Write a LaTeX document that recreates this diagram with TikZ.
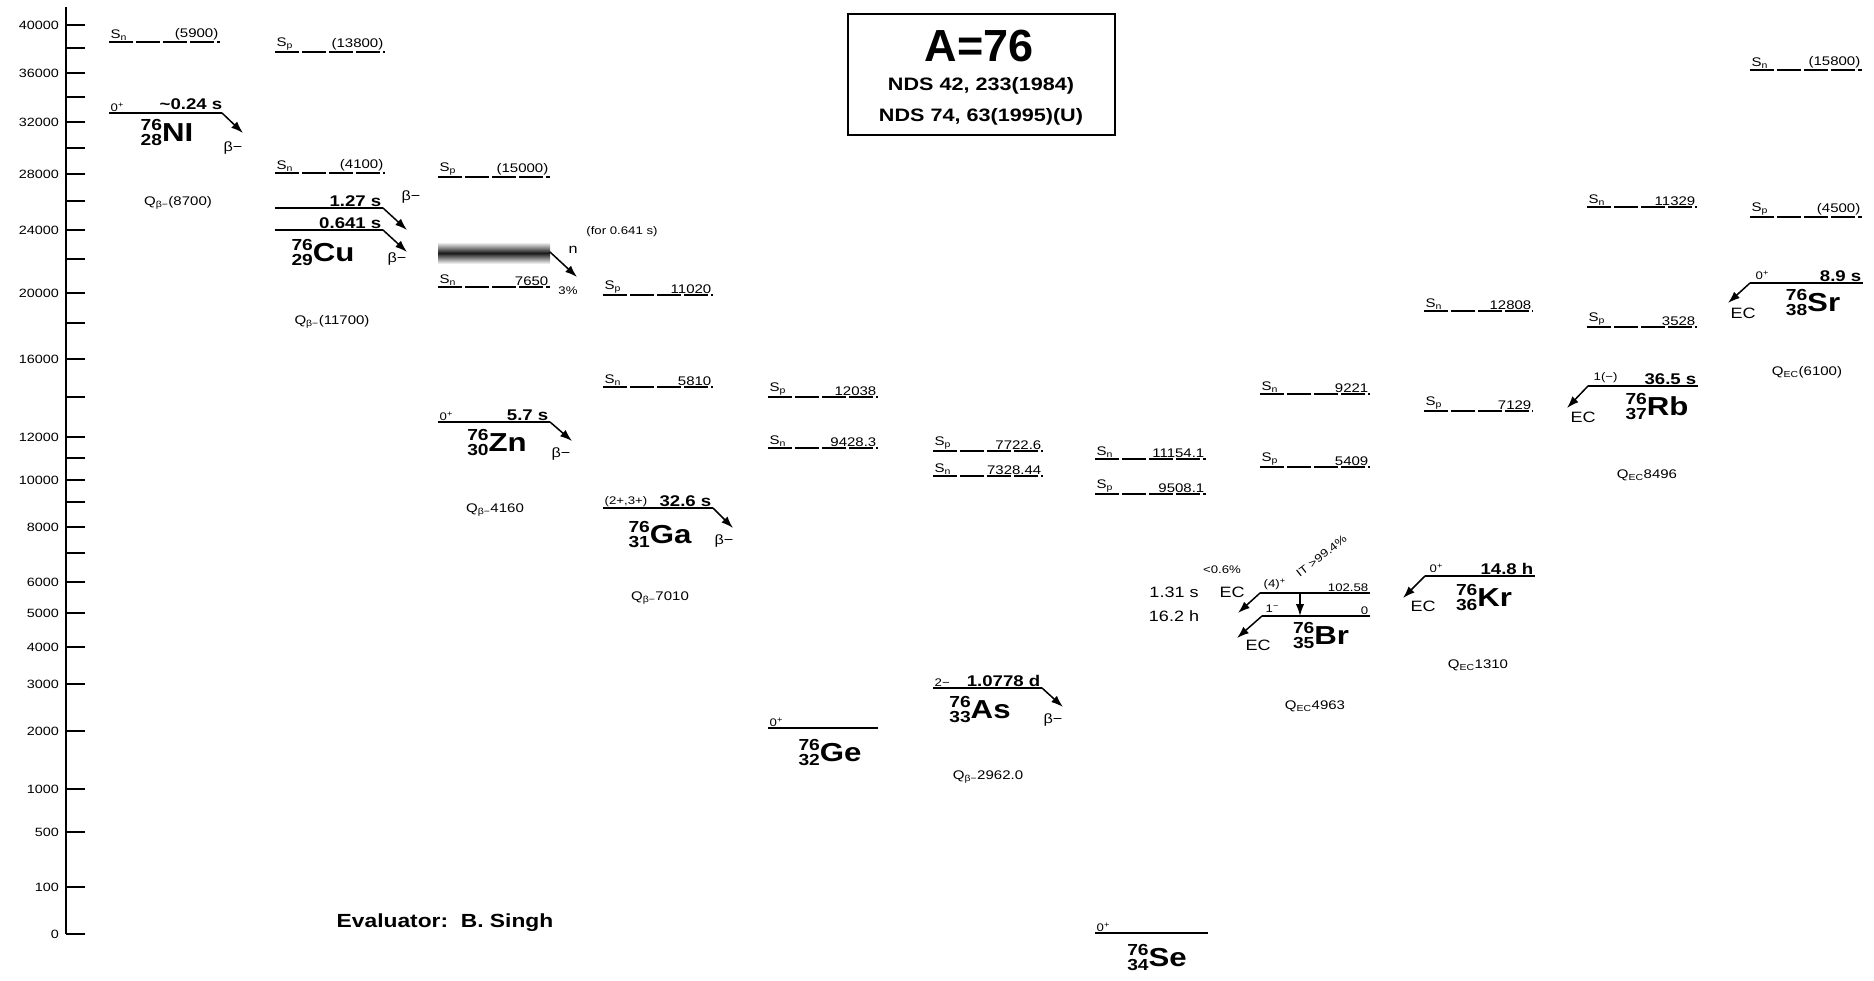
\documentclass[tikz,border=0pt]{standalone}
\usepackage{fontspec}
\setmainfont[FakeStretch=1.2]{Liberation Sans}
\newfontfamily\plainsans{Liberation Sans}
\usetikzlibrary{arrows.meta}
\newcommand{\iso}[3]{\bfseries\raisebox{-4pt}{\fontsize{16}{12}\selectfont\begin{tabular}[b]{@{}r@{}}#1\\#2\end{tabular}}\fontsize{26}{26}\selectfont#3}
\newcommand{\sepline}[6]{%
  \coordinate (#1l) at (#4,#6); \coordinate (#1r) at (#5,#6);
  \draw[sepl] (#1l) -- (#1r);
  \node[lab, anchor=south west] (#1a) at (#1l) {S\textsubscript{#2}};
  \node[lab, anchor=south east] (#1v) at (#1r) {#3};}
\begin{document}
\begin{tikzpicture}[x=1pt,y=-1pt,
  lab/.style={font=\fontsize{12.5}{13}\selectfont, inner sep=1.5pt},
  small/.style={font=\fontsize{11}{12}\selectfont, inner sep=1.5pt},
  hl/.style={font=\bfseries\fontsize{15.5}{17}\selectfont, inner sep=1.5pt},
  dec/.style={font=\fontsize{13.5}{14}\selectfont, inner sep=1pt},
  nuc/.style={inner sep=0pt},
  lev/.style={line width=2.2pt},
  sepl/.style={line width=1.5pt, dash pattern=on 24pt off 3pt},
  dar/.style={line width=1.5pt, -{Latex[length=12pt,width=8.5pt]}},
  axl/.style={line width=1.8pt},
  axlab/.style={font=\fontsize{12}{13}\selectfont, anchor=east, inner sep=0pt}]
\useasboundingbox (0,0) rectangle (1874,980);
% axis
\coordinate (axtop) at (66,7); \coordinate (axbot) at (66,934);
\draw[axl] (axtop) -- (axbot);
\foreach \y in {25,48,73,97,122,148,174,201,230,259,293,323,359,397,437,458,480,502,527,553,582,613,647,684,731,789,832,887,934}
  \draw[axl] (66,\y) -- (85,\y);
\foreach \v/\y in {40000/25,36000/73,32000/122,28000/174,24000/230,20000/293,16000/359,12000/437,10000/480,8000/527,6000/582,5000/613,4000/647,3000/684,2000/731,1000/789,500/832,100/887,0/934}
  \node[axlab] (ax\v) at (59,\y) {\v};
% title
\node[draw, line width=1.4pt, minimum width=267pt, minimum height=121pt, inner sep=0pt] (box) at (981.5,74.5) {};
\node[font=\plainsans\bfseries\fontsize{45}{45}\selectfont, inner sep=0pt] (a76) at (979,46) {A=76};
\node[font=\bfseries\fontsize{18}{20}\selectfont, inner sep=0pt] (nds1) at (981,86) {NDS 42, 233(1984)};
\node[font=\bfseries\fontsize{18}{20}\selectfont, inner sep=0pt] (nds2) at (981,117) {NDS 74, 63(1995)(U)};
\node[font=\bfseries\fontsize{19}{21}\selectfont] (eval) at (445,923) {Evaluator:\ \ B. Singh};
% ---------- Ni
\sepline{nisn}{n}{(5900)}{109}{220}{42}
\coordinate (nil) at (109,113); \coordinate (nir) at (222,113); \coordinate (nie) at (243,133);
\draw[lev] (nil) -- (nir);
\draw[dar] (nir) -- (nie);
\node[small, anchor=south west] (nisp) at (nil) {0\textsuperscript{+}};
\node[hl, anchor=south east] (nihl) at (224,111) {\textasciitilde0.24 s};
\node[nuc] (ni) at (167,134) {\iso{76}{28}{NI}};
\node[dec] (nib) at (233,148) {β−};
\node[lab] (niq) at (178,203) {Q\textsubscript{β−}(8700)};
% ---------- Cu
\sepline{cusp}{p}{(13800)}{275}{385}{52}
\sepline{cusn}{n}{(4100)}{275}{385}{173}
\coordinate (cu1l) at (275,208); \coordinate (cu1r) at (383,208); \coordinate (cu1e) at (407,230);
\coordinate (cu2l) at (275,230); \coordinate (cu2r) at (383,230); \coordinate (cu2e) at (407,252);
\draw[lev] (cu1l) -- (cu1r); \draw[dar] (cu1r) -- (cu1e);
\draw[lev] (cu2l) -- (cu2r); \draw[dar] (cu2r) -- (cu2e);
\node[hl, anchor=south east] (cuhl1) at (cu1r) {1.27 s};
\node[hl, anchor=south east] (cuhl2) at (cu2r) {0.641 s};
\node[dec] (cub1) at (411,197) {β−};
\node[nuc] (cu) at (323,254) {\iso{76}{29}{Cu}};
\node[dec] (cub2) at (397,259) {β−};
\node[lab] (cuq) at (332,322) {Q\textsubscript{β−}(11700)};
% ---------- Zn
\sepline{znsp}{p}{(15000)}{438}{550}{177}
\shade[top color=white, bottom color=white, middle color=black!90] (438,242) rectangle (550,264);
\coordinate (znbr) at (550,252); \coordinate (znbe) at (577,277);
\draw[dar] (znbr) -- (znbe);
\node[dec] (znn) at (573,250) {n};
\node[small] (znfor) at (622,232) {(for 0.641 s)};
\node[small] (zn3) at (568,291) {3\%};
\sepline{znsn}{n}{7650}{438}{550}{287}
\coordinate (znl) at (438,422); \coordinate (znr) at (550,422); \coordinate (zne) at (572,441);
\draw[lev] (znl) -- (znr); \draw[dar] (znr) -- (zne);
\node[small, anchor=south west] (znsp0) at (znl) {0\textsuperscript{+}};
\node[hl, anchor=south east] (znhl) at (znr) {5.7 s};
\node[nuc] (zn) at (497,444) {\iso{76}{30}{Zn}};
\node[dec] (znb) at (561,454) {β−};
\node[lab] (znq) at (495,510) {Q\textsubscript{β−}4160};
% ---------- Ga
\sepline{gasp}{p}{11020}{603}{713}{295}
\sepline{gasn}{n}{5810}{603}{713}{387}
\coordinate (gal) at (603,508); \coordinate (gar) at (713,508); \coordinate (gae) at (733,528);
\draw[lev] (gal) -- (gar); \draw[dar] (gar) -- (gae);
\node[small, anchor=south west] (gasp0) at (gal) {(2+,3+)};
\node[hl, anchor=south east] (gahl) at (gar) {32.6 s};
\node[nuc] (ga) at (660,536) {\iso{76}{31}{Ga}};
\node[dec] (gab) at (724,541) {β−};
\node[lab] (gaq) at (660,598) {Q\textsubscript{β−}7010};
% ---------- Ge
\sepline{gesp}{p}{12038}{768}{878}{397}
\sepline{gesn}{n}{9428.3}{768}{878}{448}
\coordinate (gel) at (768,728); \coordinate (ger) at (878,728);
\draw[lev] (gel) -- (ger);
\node[small, anchor=south west] (gesp0) at (gel) {0\textsuperscript{+}};
\node[nuc] (ge) at (830,754) {\iso{76}{32}{Ge}};
% ---------- As
\sepline{assp}{p}{7722.6}{933}{1043}{451}
\sepline{assn}{n}{7328.44}{933}{1043}{476}
\coordinate (asl) at (933,688); \coordinate (asr) at (1042,688); \coordinate (ase) at (1063,707);
\draw[lev] (asl) -- (asr); \draw[dar] (asr) -- (ase);
\node[small, anchor=south west] (assp0) at (asl) {2−};
\node[hl, anchor=south east] (ashl) at (asr) {1.0778 d};
\node[nuc] (as) at (980,711) {\iso{76}{33}{As}};
\node[dec] (asb) at (1053,720) {β−};
\node[lab] (asq) at (988,777) {Q\textsubscript{β−}2962.0};
% ---------- Se
\sepline{sesn}{n}{11154.1}{1095}{1206}{459}
\sepline{sesp}{p}{9508.1}{1095}{1206}{494}
\coordinate (sel) at (1095,933); \coordinate (ser) at (1208,933);
\draw[lev] (sel) -- (ser);
\node[small, anchor=south west] (sesp0) at (sel) {0\textsuperscript{+}};
\node[nuc] (se) at (1157,959) {\iso{76}{34}{Se}};
% ---------- Br
\sepline{brsn}{n}{9221}{1260}{1370}{394}
\sepline{brsp}{p}{5409}{1260}{1370}{467}
\coordinate (br1l) at (1260,593); \coordinate (br1r) at (1370,593); \coordinate (br1e) at (1238,613);
\coordinate (br2l) at (1262,616); \coordinate (br2r) at (1370,616); \coordinate (br2e) at (1237,638);
\coordinate (brit1) at (1300,593); \coordinate (brit2) at (1300,616);
\draw[lev] (br1l) -- (br1r); \draw[lev] (br2l) -- (br2r);
\draw[dar] (br1l) -- (br1e); \draw[dar] (br2l) -- (br2e);
\draw[dar] (brit1) -- (brit2);
\node[small, anchor=south west] (brsp1) at (1262,591) {(4)\textsuperscript{+}};
\node[small, anchor=south east] (bre1) at (br1r) {102.58};
\node[small, anchor=south west] (brsp2) at (1264,614) {1\textsuperscript{−}};
\node[small, anchor=south east] (bre2) at (br2r) {0};
\node[small, rotate=38, anchor=south west, inner sep=0pt] (brit) at (1300,578) {IT >99.4\%};
\node[small] (brpc) at (1222,570) {<0.6\%};
\node[dec, font=\fontsize{15}{16}\selectfont] (brec1) at (1232,592) {EC};
\node[dec, font=\fontsize{15}{16}\selectfont] (brhl1) at (1174,592) {1.31 s};
\node[dec, font=\fontsize{15}{16}\selectfont] (brhl2) at (1174,616) {16.2 h};
\node[dec, font=\fontsize{15}{16}\selectfont] (brec2) at (1258,645) {EC};
\node[nuc] (br) at (1321,637) {\iso{76}{35}{Br}};
\node[lab] (brq) at (1315,706) {Q\textsubscript{EC}4963};
% ---------- Kr
\sepline{krsn}{n}{12808}{1424}{1533}{311}
\sepline{krsp}{p}{7129}{1424}{1533}{411}
\coordinate (krl) at (1425,576); \coordinate (krr) at (1535,576); \coordinate (kre) at (1403,598);
\draw[lev] (krl) -- (krr); \draw[dar] (krl) -- (kre);
\node[small, anchor=south west] (krsp0) at (1428,574) {0\textsuperscript{+}};
\node[hl, anchor=south east] (krhl) at (krr) {14.8 h};
\node[nuc] (kr) at (1484,599) {\iso{76}{36}{Kr}};
\node[dec, font=\fontsize{15}{16}\selectfont] (krec) at (1423,606) {EC};
\node[lab] (krq) at (1478,665) {Q\textsubscript{EC}1310};
% ---------- Rb
\sepline{rbsn}{n}{11329}{1587}{1697}{207}
\sepline{rbsp}{p}{3528}{1587}{1697}{327}
\coordinate (rbl) at (1588,386); \coordinate (rbr) at (1698,386); \coordinate (rbe) at (1567,408);
\draw[lev] (rbl) -- (rbr); \draw[dar] (rbl) -- (rbe);
\node[small, anchor=south west] (rbsp0) at (1592,384) {1(−)};
\node[hl, anchor=south east] (rbhl) at (rbr) {36.5 s};
\node[nuc] (rb) at (1657,408) {\iso{76}{37}{Rb}};
\node[dec, font=\fontsize{15}{16}\selectfont] (rbec) at (1583,417) {EC};
\node[lab] (rbq) at (1647,475) {Q\textsubscript{EC}8496};
% ---------- Sr
\sepline{srsn}{n}{(15800)}{1750}{1862}{70}
\sepline{srsp}{p}{(4500)}{1750}{1862}{217}
\coordinate (srl) at (1750,283); \coordinate (srr) at (1863,283); \coordinate (sre) at (1728,303);
\draw[lev] (srl) -- (srr); \draw[dar] (srl) -- (sre);
\node[small, anchor=south west] (srsp0) at (1754,281) {0\textsuperscript{+}};
\node[hl, anchor=south east] (srhl) at (srr) {8.9 s};
\node[nuc] (sr) at (1813,304) {\iso{76}{38}{Sr}};
\node[dec, font=\fontsize{15}{16}\selectfont] (srec) at (1743,313) {EC};
\node[lab] (srq) at (1807,372) {Q\textsubscript{EC}(6100)};
\end{tikzpicture}
\end{document}
